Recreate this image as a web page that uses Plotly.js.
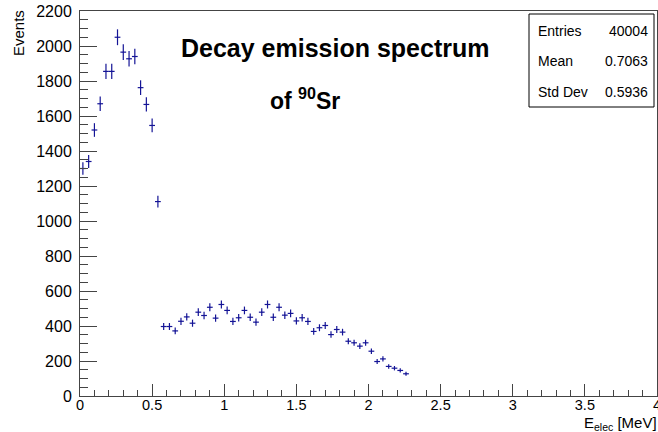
<!DOCTYPE html>
<html>
<head>
<meta charset="utf-8">
<script src="https://cdn.plot.ly/plotly-3.0.1.min.js"></script>
<style>html,body{margin:0;padding:0;background:#fff;}#chart{width:658px;height:432px;}</style>
</head>
<body>
<div id="chart"></div>
<script>
// Bin centres (MeV) of the histogram bins that hold entries
const binCenters = [0.02,0.06,0.10,0.14,0.18,0.22,0.26,0.30,0.34,0.38,
  0.42,0.46,0.50,0.54,0.58,0.62,0.66,0.70,0.74,0.78,
  0.82,0.86,0.90,0.94,0.98,1.02,1.06,1.10,1.14,1.18,
  1.22,1.26,1.30,1.34,1.38,1.42,1.46,1.50,1.54,1.58,
  1.62,1.66,1.70,1.74,1.78,1.82,1.86,1.90,1.94,1.98,
  2.02,2.06,2.10,2.14,2.18,2.22,2.26];
// Events per bin
const events = [1300,1340,1520,1670,1855,1855,2050,1965,1927,1940,
  1762,1666,1546,1111,397,397,372,427,452,416,
  479,460,507,445,523,489,426,447,489,450,
  422,479,523,450,507,462,472,429,447,426,
  369,390,403,351,380,365,313,304,285,304,
  256,197,212,169,159,146,127];
const halfBinWidth = 0.02;
const xTickVals = [0,0.5,1,1.5,2,2.5,3,3.5,4];
const xTickText = ["0","0.5","1","1.5","2","2.5","3","3.5","4"];
const yTickVals = [0,200,400,600,800,1000,1200,1400,1600,1800,2000,2200];
const yTickText = ["0","200","400","600","800","1000","1200","1400","1600","1800","2000","2200"];
const statNames = ["Entries","Mean","Std Dev"];
const statValues = ["40004","0.7063","0.5936"];

const errors = events.map(v => Math.sqrt(v));
const col = "#141496";
const axisCol = "#444";
const font = "Liberation Sans, Arial, Helvetica, sans-serif";

const W = 658, H = 432, mL = 80, mR = 1, mT = 11, mB = 36;
const pw = W - mL - mR, ph = H - mT - mB;
const px = x => (x - mL) / pw;
const py = y => (H - mB - y) / ph;

const trace = {
  x: binCenters, y: events, type: "scatter", mode: "markers",
  marker: {size: 1, color: col},
  error_y: {type: "data", array: errors, visible: true, width: 0, thickness: 1.2, color: col},
  error_x: {type: "constant", value: halfBinWidth, visible: true, width: 0, thickness: 1.2, color: col},
  hoverinfo: "x+y", showlegend: false
};

const annotations = [
  {text: "<b>Decay emission spectrum</b>", x: px(335), y: py(48), xref: "paper", yref: "paper",
   xanchor: "center", yanchor: "middle", showarrow: false, font: {family: font, size: 25, color: "#000"}},
  {text: "<b>of <sup>90</sup>Sr</b>", x: px(305), y: py(99), xref: "paper", yref: "paper",
   xanchor: "center", yanchor: "middle", showarrow: false, font: {family: font, size: 23, color: "#000"}},
  {text: "Events", x: px(18), y: py(8), xref: "paper", yref: "paper", textangle: -90,
   xanchor: "center", yanchor: "top", showarrow: false, font: {family: font, size: 15, color: "#000"}},
  {text: "E<sub>elec</sub> [MeV]", x: px(658), y: py(433.5), xref: "paper", yref: "paper",
   xanchor: "right", yanchor: "bottom", showarrow: false, borderpad: 0,
   font: {family: font, size: 15, color: "#000"}}
];
const statY = [31.5, 61.5, 91.5];
statNames.forEach((n, i) => {
  annotations.push({text: n, x: px(536), y: py(statY[i]), xref: "paper", yref: "paper",
    xanchor: "left", yanchor: "middle", showarrow: false, font: {family: font, size: 14, color: "#000"}});
  annotations.push({text: statValues[i], x: px(650), y: py(statY[i]), xref: "paper", yref: "paper",
    xanchor: "right", yanchor: "middle", showarrow: false, font: {family: font, size: 14, color: "#000"}});
});

const layout = {
  width: W, height: H,
  margin: {l: mL, r: mR, t: mT, b: mB, pad: 0},
  paper_bgcolor: "#fff", plot_bgcolor: "#fff",
  showlegend: false,
  font: {family: font, size: 15, color: "#000"},
  xaxis: {
    range: [0, 4], tickmode: "array", tickvals: xTickVals, ticktext: xTickText,
    ticks: "inside", ticklen: 12, tickwidth: 1, tickcolor: axisCol,
    minor: {dtick: 0.1, ticks: "inside", ticklen: 6, tickwidth: 1, tickcolor: axisCol, showgrid: false},
    showline: true, linecolor: axisCol, linewidth: 1, mirror: true,
    showgrid: false, zeroline: false, ticklabelstandoff: -4, ticklabeloverflow: "allow",
    tickfont: {family: font, size: 14.5, color: "#000"}, fixedrange: true
  },
  yaxis: {
    range: [0, 2200], tickmode: "array", tickvals: yTickVals, ticktext: yTickText,
    ticks: "inside", ticklen: 17, tickwidth: 1, tickcolor: axisCol,
    minor: {dtick: 50, ticks: "inside", ticklen: 8, tickwidth: 1, tickcolor: axisCol, showgrid: false},
    showline: true, linecolor: axisCol, linewidth: 1, mirror: true,
    showgrid: false, zeroline: false, ticklabelstandoff: 4, ticklabeloverflow: "allow",
    tickfont: {family: font, size: 16, color: "#000"}, fixedrange: true
  },
  shapes: [
    {type: "rect", xref: "paper", yref: "paper", x0: px(529), x1: px(654), y0: py(107), y1: py(14),
     line: {color: "#000", width: 1}, fillcolor: "#fff", layer: "above"}
  ],
  annotations: annotations
};

Plotly.newPlot("chart", [trace], layout, {staticPlot: true, displayModeBar: false});
</script>
</body>
</html>
